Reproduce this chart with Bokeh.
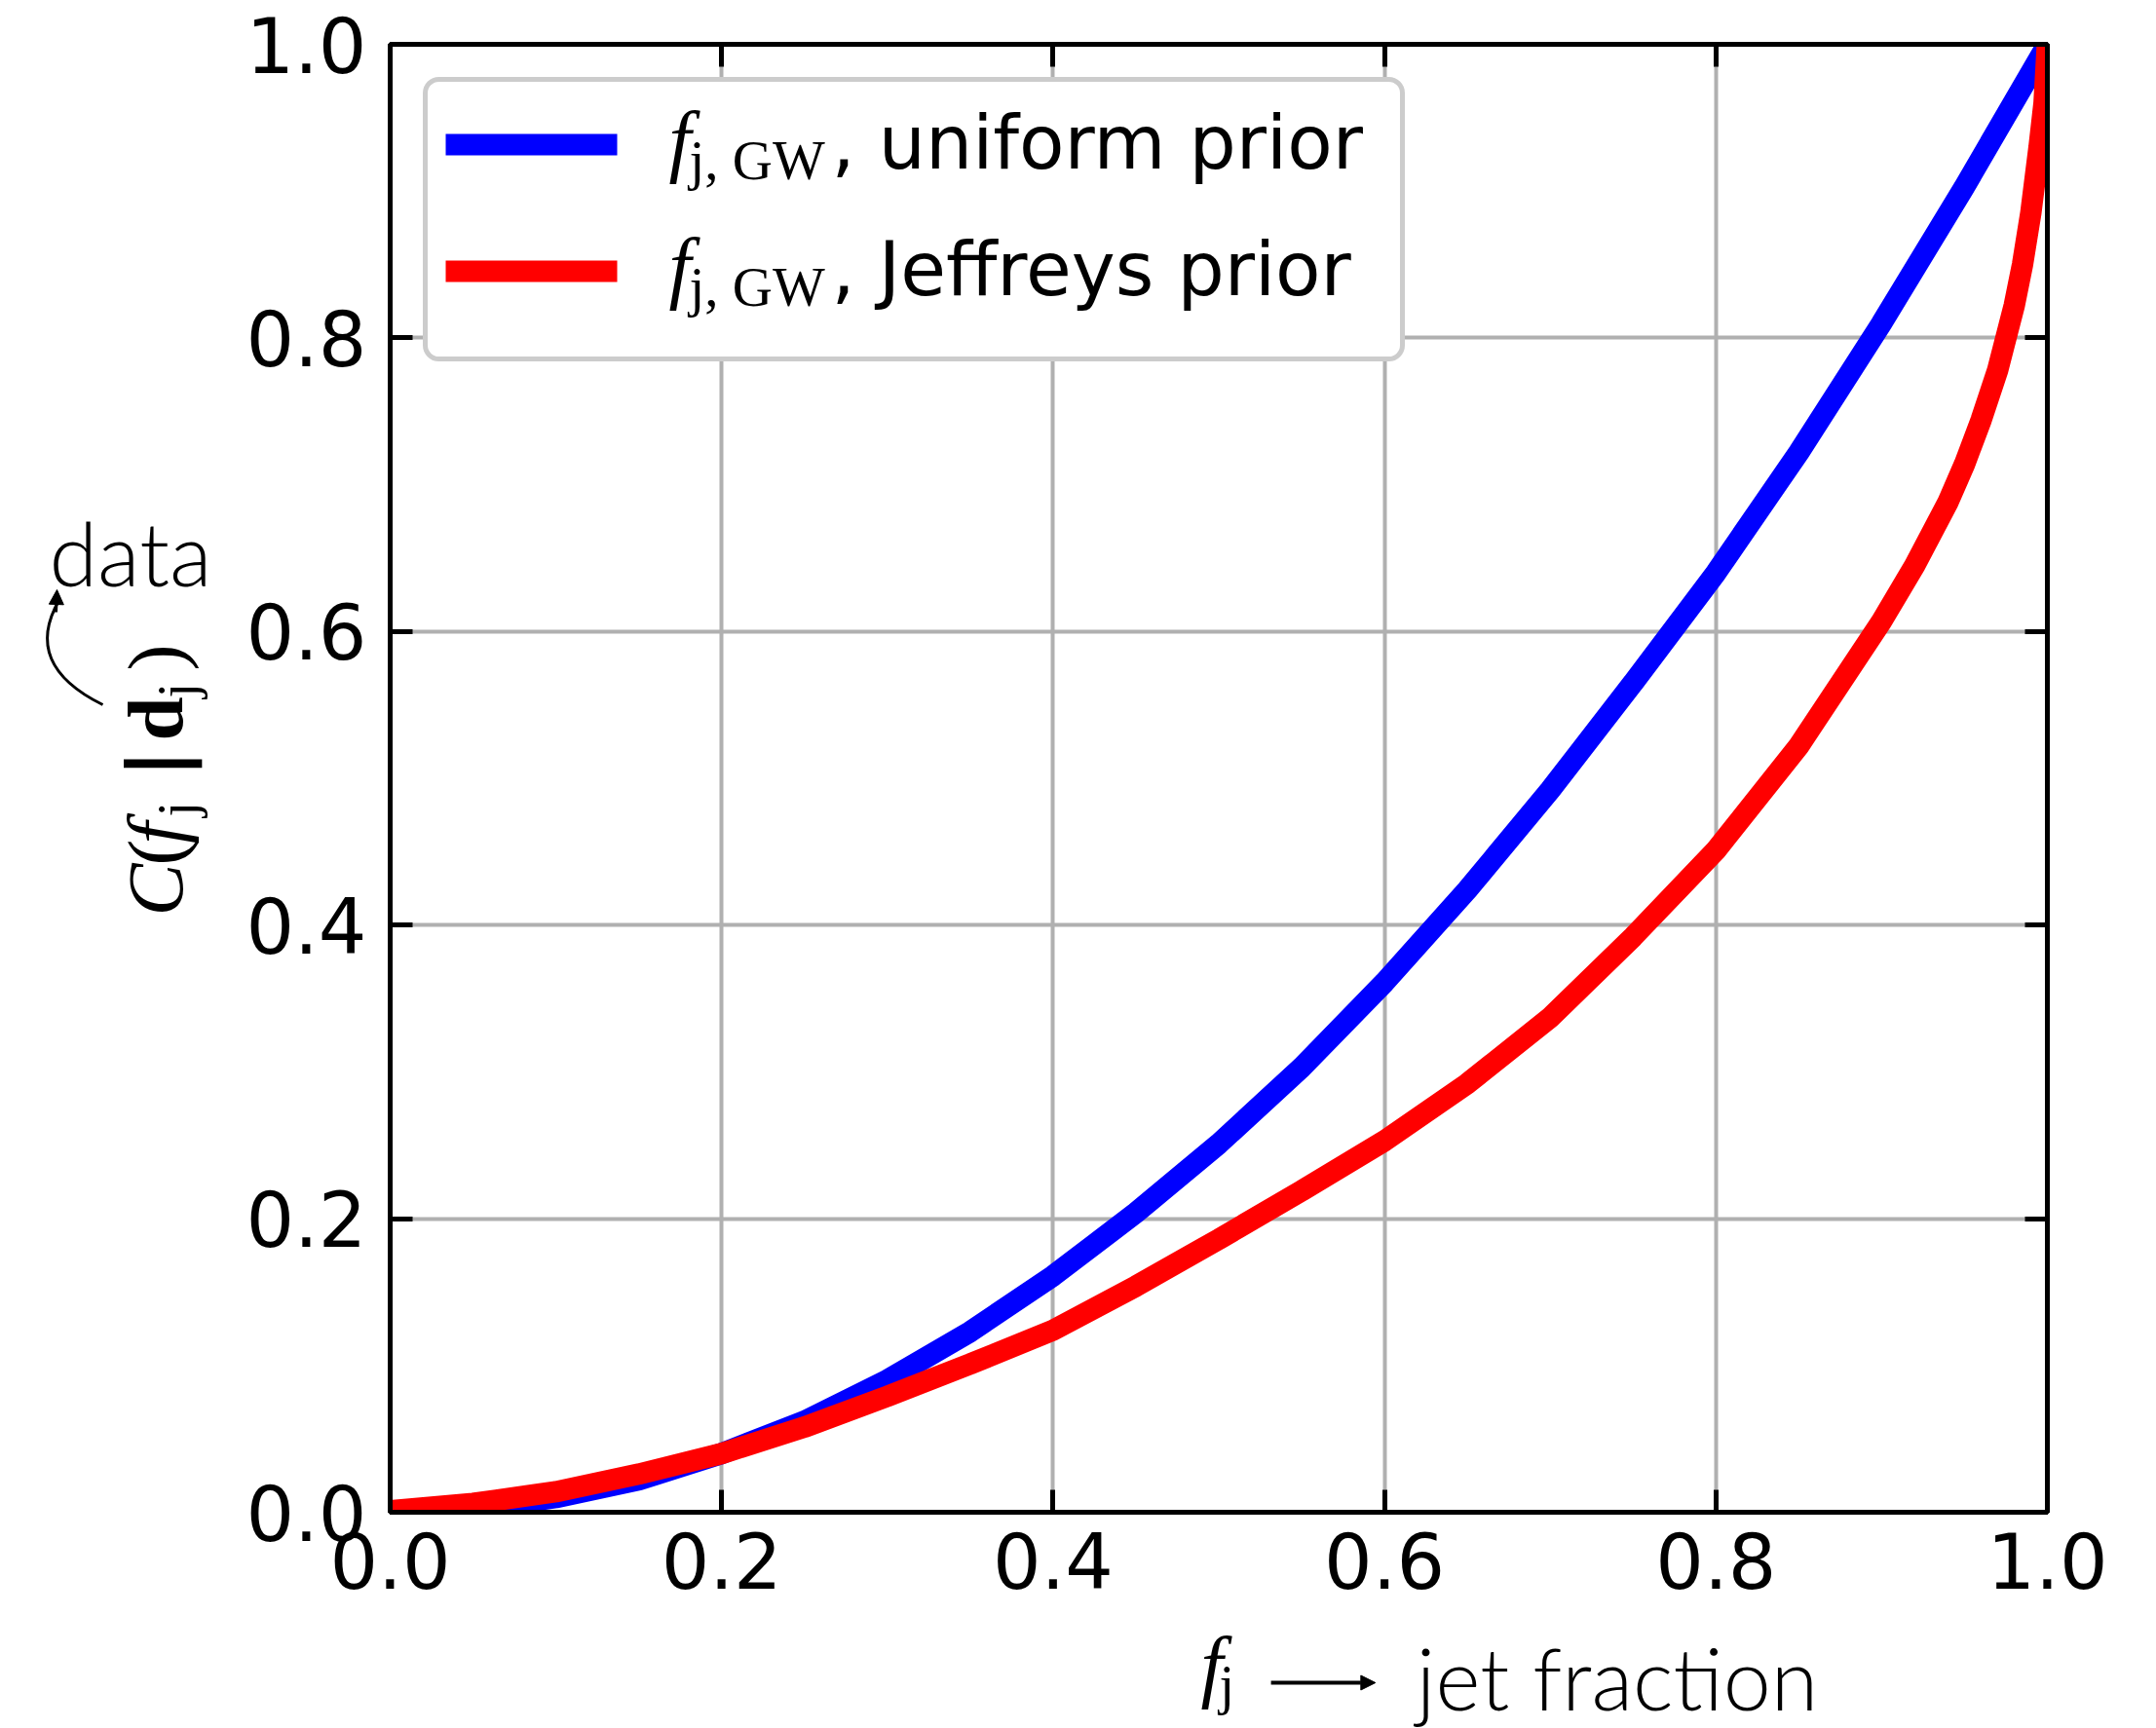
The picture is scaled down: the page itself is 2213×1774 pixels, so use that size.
from bokeh.plotting import figure
from bokeh.layouts import row, column
from bokeh.models import (Range1d, LinearAxis, FixedTicker, Label, BoxAnnotation,
                          Arrow, NormalHead)
from bokeh.embed import file_html
from bokeh.resources import INLINE

# ---------------- data ----------------
blue_x = [0.00, 0.05, 0.10, 0.15, 0.20, 0.25, 0.30, 0.35, 0.40, 0.45, 0.50,
          0.55, 0.60, 0.65, 0.70, 0.75, 0.80, 0.85, 0.90, 0.95, 1.00]
blue_y = [0.000, 0.002, 0.010, 0.022, 0.040, 0.062, 0.090, 0.123, 0.161, 0.204, 0.251,
          0.303, 0.361, 0.424, 0.492, 0.565, 0.640, 0.722, 0.810, 0.903, 1.000]

red_x = [0.00, 0.05, 0.10, 0.15, 0.20, 0.25, 0.30, 0.35, 0.40, 0.45, 0.50, 0.55,
         0.60, 0.65, 0.70, 0.75, 0.80, 0.85, 0.90, 0.92, 0.94, 0.95, 0.96, 0.97,
         0.98, 0.985, 0.99, 0.995, 0.998, 1.000]
red_y = [0.001, 0.006, 0.014, 0.026, 0.040, 0.058, 0.079, 0.101, 0.124, 0.154, 0.186, 0.219,
         0.253, 0.292, 0.337, 0.392, 0.451, 0.522, 0.607, 0.645, 0.688, 0.714, 0.744, 0.778,
         0.822, 0.850, 0.885, 0.930, 0.960, 1.000]

tick_values = [0.0, 0.2, 0.4, 0.6, 0.8, 1.0]
tick_labels = ["0.0", "0.2", "0.4", "0.6", "0.8", "1.0"]
series_names = ["uniform prior", "Jeffreys prior"]
series_colors = ["#0000ff", "#ff0000"]

# ---------------- page geometry (canvas pixels) ----------------
W, H = 2213, 1774
LW = 230                 # width of the y-label strip
XH = 109                 # height of the x-label strip
FX0, FX1, FY0, FY1 = 400, 2101, 45, 1552   # frame of the main plot

SERIF = "Liberation Serif"
SANS = "DejaVu Sans"
LIGHT = "Lato Light, Open Sans Light, Open Sans"


def hfix(size):          # Label alphabetic-baseline correction (horizontal text)
    return 0.36 * size


def vfix(size):          # same for text rotated by 90 degrees
    return 0.475 * size


# ---------------- main plot ----------------
p = figure(width=W - LW, height=H - XH, x_range=Range1d(0, 1), y_range=Range1d(0, 1),
           output_backend="svg", toolbar_location=None,
           min_border_left=FX0 - LW, min_border_right=W - FX1,
           min_border_top=FY0, min_border_bottom=(H - XH) - FY1,
           background_fill_color="white", border_fill_color="white")
p.outline_line_color = "black"
p.outline_line_width = 5

p.add_layout(LinearAxis(), "right")
p.add_layout(LinearAxis(), "above")
for ax in p.axis:
    ax.ticker = FixedTicker(ticks=tick_values)
    ax.major_label_overrides = dict(zip(tick_values, tick_labels))
    ax.major_tick_in = 23
    ax.major_tick_out = 0
    ax.major_tick_line_width = 5
    ax.major_tick_line_color = "black"
    ax.minor_tick_line_color = None
    ax.axis_line_width = 5
    ax.axis_line_color = "black"
    ax.major_label_text_font = SANS
    ax.major_label_text_font_size = "78px"
    ax.major_label_text_color = "black"
p.right[0].major_label_text_color = None
p.above[0].major_label_text_color = None
p.left[0].major_label_standoff = 24
p.below[0].major_label_standoff = 20

for g in (p.xgrid, p.ygrid):
    g.ticker = FixedTicker(ticks=tick_values)
    g.grid_line_color = "#b0b0b0"
    g.grid_line_width = 4

p.line(blue_x, blue_y, line_color=series_colors[0], line_width=22)
p.line(red_x, red_y, line_color=series_colors[1], line_width=22)


def mdx(px):
    return (px - FX0) / (FX1 - FX0)


def mdy(py):
    return (FY1 - py) / (FY1 - FY0)


def mlabel(text, px, py, size, font, style="normal"):
    p.add_layout(Label(x=mdx(px), y=mdy(py - hfix(size)), text=text, text_font=font,
                       text_font_size=f"{size}px", text_font_style=style,
                       text_align="left", text_baseline="alphabetic", text_color="black"))


# legend, drawn by hand because of its mixed fonts
p.add_layout(BoxAnnotation(left=mdx(436), right=mdx(1439), top=mdy(81), bottom=mdy(368),
                           fill_color="white", fill_alpha=1.0, line_color="#cccccc",
                           line_alpha=1.0, line_width=5, border_radius=14))
rows = [(148, 173, 185), (278, 303, 315)]   # swatch centre, text baseline, subscript baseline
for (sy, tb, sb), name, col in zip(rows, series_names, series_colors):
    p.add_layout(BoxAnnotation(left=mdx(457), right=mdx(633), top=mdy(sy - 11), bottom=mdy(sy + 11),
                               fill_color=col, fill_alpha=1.0, line_color=None))
    mlabel("f", 686, tb, 82, SERIF, "italic")
    mlabel("j, GW", 707, sb, 57, SERIF)
    mlabel(", " + name, 853, tb, 76, SANS)


def strip(width, height, x0, x1, y0, y1):
    f = figure(width=width, height=height, x_range=Range1d(x0, x1), y_range=Range1d(y1, y0),
               output_backend="svg", toolbar_location=None, min_border=0,
               min_border_left=0, min_border_right=0, min_border_top=0, min_border_bottom=0,
               x_axis_location=None, y_axis_location=None,
               background_fill_color="white", border_fill_color="white")
    f.grid.visible = False
    f.outline_line_color = None
    return f


def slabel(f, text, px, py, size, font, style="normal", rotated=False):
    if rotated:
        x, y, angle = px - vfix(size), py, 1.5707963267948966
    else:
        x, y, angle = px, py - hfix(size), 0.0
    f.add_layout(Label(x=x, y=y, text=text, text_font=font, text_font_size=f"{size}px",
                       text_font_style=style, angle=angle, text_align="left",
                       text_baseline="alphabetic", text_color="black"))


# ---------------- x label strip ----------------
xs = strip(W - LW, XH, LW, W, H - XH, H)
slabel(xs, "f", 1200, 1739, 82, SERIF, "italic")
slabel(xs, "j", 1222, 1750, 56, SERIF)
xs.add_layout(Arrow(x_start=1284, y_start=1727, x_end=1409, y_end=1727,
                    line_width=4, line_color="black",
                    end=NormalHead(size=15, fill_color="black", line_color="black", line_width=1)))
slabel(xs, "jet fraction", 1458, 1753, 88, LIGHT)

# ---------------- y label strip ----------------
ys = strip(LW, H, 0, LW, 0, H)
BX = 198
slabel(ys, "C", BX, 940, 81, SERIF, "italic", True)
slabel(ys, "(", BX, 888, 81, SERIF, rotated=True)
slabel(ys, "f", BX, 866, 81, SERIF, "italic", True)
slabel(ys, "j", BX + 10, 838, 56, SERIF, rotated=True)
slabel(ys, "|", BX, 798, 80, SANS, "bold", True)
slabel(ys, "d", BX, 760, 81, SERIF, "bold", True)
slabel(ys, "j", BX + 10, 716, 56, SERIF, rotated=True)
slabel(ys, ")", BX, 688, 81, SERIF, rotated=True)
slabel(ys, "data", 50, 599, 90, LIGHT)
ys.quadratic(x0=[105], y0=[723], x1=[60], y1=[616], cx=[22], cy=[682],
             line_color="black", line_width=3)
ys.add_layout(Arrow(x_start=57, y_start=628, x_end=58, y_end=605, line_width=3, line_color="black",
                    end=NormalHead(size=15, fill_color="black", line_color="black", line_width=1)))

layout = row(ys, column(p, xs))
open("out.html", "w").write(file_html(layout, INLINE))
